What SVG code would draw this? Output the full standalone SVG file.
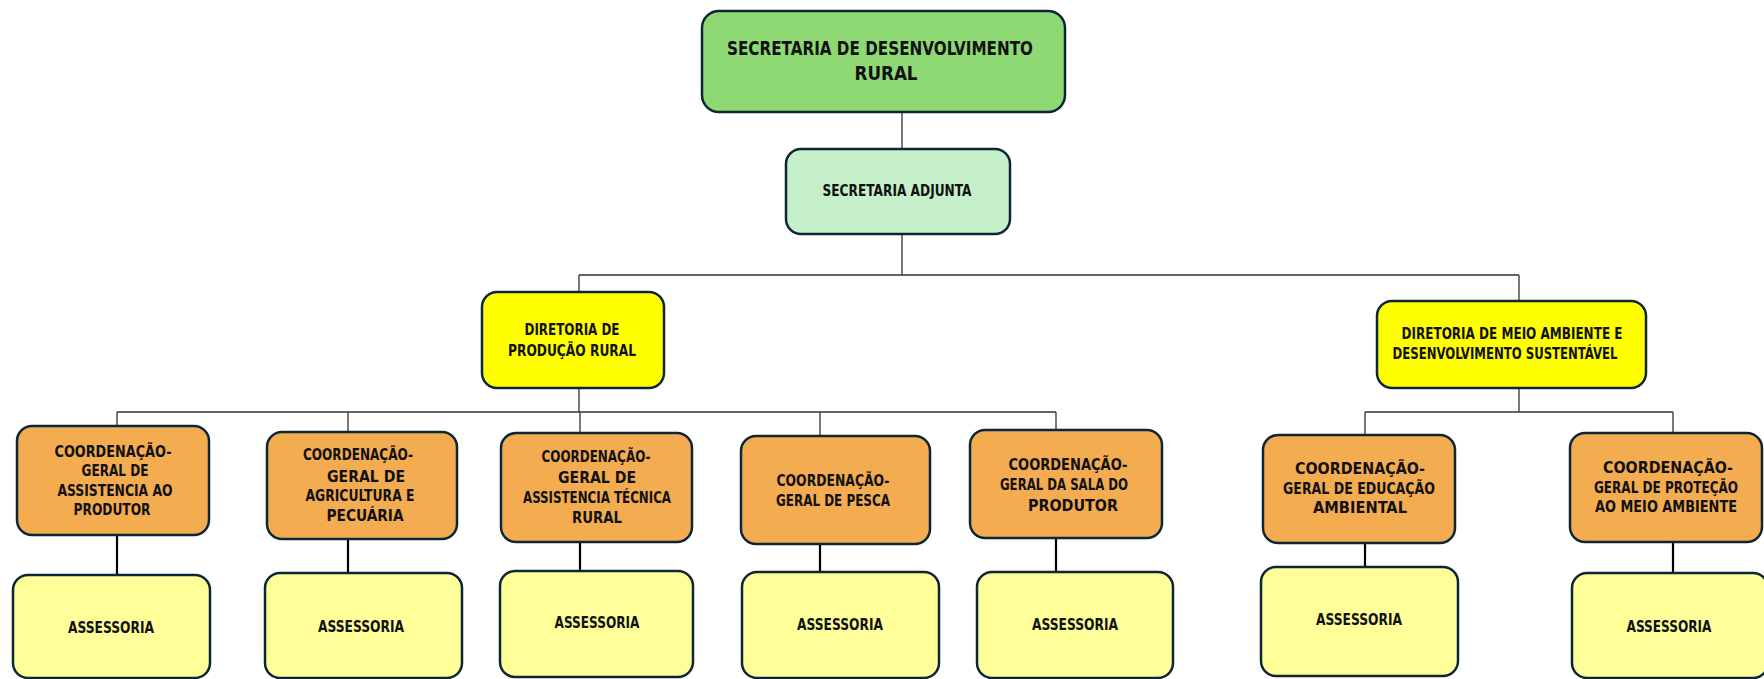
<svg xmlns="http://www.w3.org/2000/svg" width="1764" height="679" viewBox="0 0 1764 679">
<style>
.box{stroke:#0c2638;stroke-width:2.5}
.g1{fill:#8fd975}
.g2{fill:#c5f0c9}
.y1{fill:#ffff00}
.o1{fill:#f4ac50}
.y2{fill:#ffff99}
text{font-family:"DejaVu Sans Condensed","DejaVu Sans","Liberation Sans",sans-serif;font-weight:bold;fill:#111;text-anchor:middle}
.t15{font-size:15px}
.t14{font-size:14px}
.t20{font-size:20px}
.thin{stroke:#333;stroke-width:1.3;fill:none}
.thick{stroke:#000;stroke-width:2.2;fill:none}
</style>
<g id="connectors">
<path class="thin" d="M902 112V149M902 234V275M579 275H1519M579 275V292M1519 275V301"/>
<path class="thin" d="M579 388V412M117 412H1056M117 412V426M348 412V432M580 412V433M820 412V436M1056 412V430"/>
<path class="thin" d="M1519 388V412M1365 412H1673M1365 412V435M1673 412V433"/>
<path class="thick" d="M117 535V575M348 539V573M580 542V571M820 544V572M1056 538V572M1365 543V567M1673 542V573"/>
</g>
<g id="n-secretaria">
<rect class="box g1" x="702" y="11" width="363" height="101" rx="17"/>
<text class="t20" x="880" y="55" textLength="306" lengthAdjust="spacingAndGlyphs">SECRETARIA DE DESENVOLVIMENTO</text>
<text class="t20" x="886" y="80" textLength="63" lengthAdjust="spacingAndGlyphs">RURAL</text>
</g>
<g id="n-adjunta">
<rect class="box g2" x="786" y="149" width="224" height="85" rx="15"/>
<text class="t15" x="897" y="196" textLength="149" lengthAdjust="spacingAndGlyphs">SECRETARIA ADJUNTA</text>
</g>
<g id="n-dir-producao">
<rect class="box y1" x="482" y="292" width="182" height="96" rx="15"/>
<text class="t15" x="572" y="335" textLength="95" lengthAdjust="spacingAndGlyphs">DIRETORIA DE</text>
<text class="t15" x="572" y="356" textLength="128" lengthAdjust="spacingAndGlyphs">PRODUÇÃO RURAL</text>
</g>
<g id="n-dir-meio">
<rect class="box y1" x="1377" y="301" width="269" height="87" rx="15"/>
<text class="t15" x="1512" y="339" textLength="221" lengthAdjust="spacingAndGlyphs">DIRETORIA DE MEIO AMBIENTE E</text>
<text class="t15" x="1505" y="359" textLength="225" lengthAdjust="spacingAndGlyphs">DESENVOLVIMENTO SUSTENTÁVEL</text>
</g>
<g id="n-cg1">
<rect class="box o1" x="17" y="426" width="192" height="109" rx="15"/>
<text class="t15" x="113" y="457" textLength="117" lengthAdjust="spacingAndGlyphs">COORDENAÇÃO-</text>
<text class="t15" x="115" y="476" textLength="67" lengthAdjust="spacingAndGlyphs">GERAL DE</text>
<text class="t15" x="115" y="496" textLength="115" lengthAdjust="spacingAndGlyphs">ASSISTENCIA AO</text>
<text class="t15" x="112" y="515" textLength="77" lengthAdjust="spacingAndGlyphs">PRODUTOR</text>
</g>
<g id="n-cg2">
<rect class="box o1" x="267" y="432" width="190" height="107" rx="15"/>
<text class="t15" x="358" y="460" textLength="110" lengthAdjust="spacingAndGlyphs">COORDENAÇÃO-</text>
<text class="t15" x="366" y="482" textLength="78" lengthAdjust="spacingAndGlyphs">GERAL DE</text>
<text class="t15" x="360" y="501" textLength="109" lengthAdjust="spacingAndGlyphs">AGRICULTURA E</text>
<text class="t15" x="365" y="521" textLength="77" lengthAdjust="spacingAndGlyphs">PECUÁRIA</text>
</g>
<g id="n-cg3">
<rect class="box o1" x="501" y="433" width="191" height="109" rx="15"/>
<text class="t15" x="596" y="462" textLength="109" lengthAdjust="spacingAndGlyphs">COORDENAÇÃO-</text>
<text class="t15" x="597" y="483" textLength="78" lengthAdjust="spacingAndGlyphs">GERAL DE</text>
<text class="t15" x="597" y="503" textLength="148" lengthAdjust="spacingAndGlyphs">ASSISTENCIA TÉCNICA</text>
<text class="t15" x="597" y="523" textLength="50" lengthAdjust="spacingAndGlyphs">RURAL</text>
</g>
<g id="n-cg4">
<rect class="box o1" x="741" y="436" width="189" height="108" rx="15"/>
<text class="t15" x="833" y="486" textLength="113" lengthAdjust="spacingAndGlyphs">COORDENAÇÃO-</text>
<text class="t15" x="833" y="506" textLength="114" lengthAdjust="spacingAndGlyphs">GERAL DE PESCA</text>
</g>
<g id="n-cg5">
<rect class="box o1" x="970" y="430" width="192" height="108" rx="15"/>
<text class="t15" x="1068" y="470" textLength="119" lengthAdjust="spacingAndGlyphs">COORDENAÇÃO-</text>
<text class="t15" x="1064" y="490" textLength="128" lengthAdjust="spacingAndGlyphs">GERAL DA SALA DO</text>
<text class="t15" x="1073" y="511" textLength="90" lengthAdjust="spacingAndGlyphs">PRODUTOR</text>
</g>
<g id="n-cg6">
<rect class="box o1" x="1263" y="435" width="192" height="108" rx="15"/>
<text class="t15" x="1360" y="474" textLength="130" lengthAdjust="spacingAndGlyphs">COORDENAÇÃO-</text>
<text class="t15" x="1359" y="494" textLength="152" lengthAdjust="spacingAndGlyphs">GERAL DE EDUCAÇÃO</text>
<text class="t15" x="1360" y="513" textLength="94" lengthAdjust="spacingAndGlyphs">AMBIENTAL</text>
</g>
<g id="n-cg7">
<rect class="box o1" x="1570" y="433" width="192" height="109" rx="15"/>
<text class="t15" x="1668" y="473" textLength="130" lengthAdjust="spacingAndGlyphs">COORDENAÇÃO-</text>
<text class="t15" x="1666" y="493" textLength="144" lengthAdjust="spacingAndGlyphs">GERAL DE PROTEÇÃO</text>
<text class="t15" x="1666" y="512" textLength="142" lengthAdjust="spacingAndGlyphs">AO MEIO AMBIENTE</text>
</g>
<g id="n-as1">
<rect class="box y2" x="13" y="575" width="197" height="103" rx="15"/>
<text class="t15" x="111" y="633" textLength="86" lengthAdjust="spacingAndGlyphs">ASSESSORIA</text>
</g>
<g id="n-as2">
<rect class="box y2" x="265" y="573" width="197" height="105" rx="15"/>
<text class="t15" x="361" y="632" textLength="86" lengthAdjust="spacingAndGlyphs">ASSESSORIA</text>
</g>
<g id="n-as3">
<rect class="box y2" x="500" y="571" width="193" height="106" rx="15"/>
<text class="t15" x="597" y="628" textLength="85" lengthAdjust="spacingAndGlyphs">ASSESSORIA</text>
</g>
<g id="n-as4">
<rect class="box y2" x="742" y="572" width="197" height="106" rx="15"/>
<text class="t15" x="840" y="630" textLength="86" lengthAdjust="spacingAndGlyphs">ASSESSORIA</text>
</g>
<g id="n-as5">
<rect class="box y2" x="977" y="572" width="196" height="106" rx="15"/>
<text class="t15" x="1075" y="630" textLength="86" lengthAdjust="spacingAndGlyphs">ASSESSORIA</text>
</g>
<g id="n-as6">
<rect class="box y2" x="1261" y="567" width="197" height="109" rx="15"/>
<text class="t15" x="1359" y="625" textLength="86" lengthAdjust="spacingAndGlyphs">ASSESSORIA</text>
</g>
<g id="n-as7">
<rect class="box y2" x="1572" y="573" width="196" height="105" rx="15"/>
<text class="t15" x="1669" y="632" textLength="85" lengthAdjust="spacingAndGlyphs">ASSESSORIA</text>
</g>
</svg>
